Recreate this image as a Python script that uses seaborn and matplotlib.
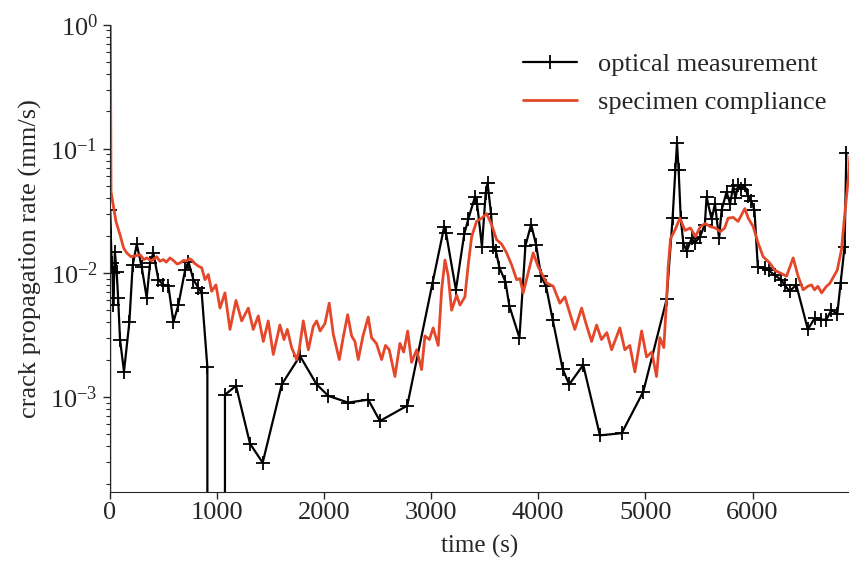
import pandas as pd
import seaborn as sns
import matplotlib.pyplot as plt

# optical measurement (black, + markers); zeros fall off the log axis
optical_t = [0, 5, 20, 30, 35, 50, 67, 80, 98, 135, 185, 216, 254, 300, 347, 378,
             409, 456, 503, 549, 596, 642, 705, 736, 783, 829, 860, 913, 925, 1070,
             1077, 1180, 1311, 1429, 1607, 1777, 1933, 2041, 2227, 2414, 2523, 2778,
             3014, 3123, 3140, 3232, 3310, 3347, 3410, 3430, 3475, 3510, 3527, 3560,
             3580, 3606, 3638, 3694, 3731, 3825, 3881, 3934, 3980, 4027, 4073, 4135,
             4228, 4289, 4420, 4576, 4779, 4980, 5198, 5254, 5280, 5295, 5310, 5330,
             5354, 5385, 5432, 5460, 5510, 5555, 5571, 5618, 5649, 5688, 5711, 5758,
             5790, 5820, 5840, 5866, 5895, 5925, 5955, 5987, 6018, 6049, 6112, 6150,
             6205, 6268, 6299, 6345, 6408, 6516, 6579, 6641, 6688, 6735, 6791, 6822,
             6859, 6875]
optical_rate = [0, 0.032, 0.012, 0.010, 0.0055, 0.0148, 0.0101, 0.0063, 0.0029, 0.0016,
                0.0040, 0.0115, 0.017, 0.0112, 0.0063, 0.012, 0.0145, 0.0088, 0.0080,
                0.0079, 0.0040, 0.0055, 0.0105, 0.0123, 0.0088, 0.0076, 0.0069, 0.00174,
                0, 0, 0.00104, 0.00123, 0.00042, 0.000295, 0.00126, 0.00214, 0.00126,
                0.00102, 0.00090, 0.00095, 0.00064, 0.00085, 0.0083, 0.0236, 0.021,
                0.0073, 0.0206, 0.027, 0.041, 0.036, 0.0163, 0.044, 0.053, 0.030, 0.0163,
                0.0149, 0.011, 0.0085, 0.0054, 0.0030, 0.0166, 0.0245, 0.0169, 0.0094,
                0.0078, 0.0042, 0.00168, 0.00126, 0.00181, 0.00049, 0.00051, 0.00110,
                0.0061, 0.0276, 0.068, 0.111, 0.068, 0.0276, 0.0174, 0.0149, 0.019,
                0.0174, 0.0196, 0.0245, 0.041, 0.027, 0.036, 0.019, 0.032, 0.045, 0.036,
                0.050, 0.040, 0.051, 0.047, 0.051, 0.042, 0.038, 0.032, 0.0112, 0.0109,
                0.0105, 0.0096, 0.0088, 0.0080, 0.0071, 0.0080, 0.0035, 0.0043, 0.0042,
                0.0042, 0.0050, 0.0047, 0.0083, 0.0163, 0.093]

# specimen compliance (red)
compliance_t = [8, 14, 35, 60, 100, 130, 160, 200, 250, 285, 320, 347, 390, 440, 470,
                502, 530, 564, 600, 630, 658, 690, 720, 745, 767, 790, 813, 840, 860,
                891, 922, 953, 993, 1031, 1077, 1124, 1180, 1233, 1295, 1341, 1388,
                1435, 1481, 1528, 1590, 1628, 1659, 1699, 1746, 1770, 1808, 1855, 1901,
                1933, 1965, 2010, 2050, 2088, 2144, 2180, 2222, 2259, 2290, 2321, 2365,
                2414, 2445, 2490, 2539, 2575, 2610, 2663, 2710, 2745, 2782, 2819, 2866,
                2912, 2943, 2985, 3020, 3067, 3099, 3130, 3160, 3192, 3239, 3270, 3316,
                3347, 3379, 3425, 3472, 3519, 3565, 3612, 3660, 3705, 3752, 3799, 3830,
                3860, 3907, 3953, 4000, 4030, 4078, 4140, 4202, 4249, 4296, 4342, 4405,
                4450, 4498, 4545, 4590, 4640, 4685, 4762, 4808, 4855, 4902, 4965, 5011,
                5060, 5104, 5135, 5172, 5198, 5213, 5235, 5275, 5322, 5370, 5420, 5467,
                5513, 5560, 5605, 5653, 5700, 5740, 5772, 5819, 5865, 5928, 5960, 6006,
                6052, 6099, 6161, 6208, 6255, 6317, 6379, 6425, 6472, 6516, 6550, 6579,
                6610, 6644, 6690, 6720, 6759, 6790, 6830, 6861, 6892, 6910]
compliance_rate = [1.0, 0.045, 0.035, 0.026, 0.020, 0.016, 0.0145, 0.0135, 0.0138, 0.014,
                   0.0128, 0.0132, 0.0125, 0.0135, 0.0124, 0.0128, 0.0122, 0.0132, 0.0125,
                   0.0118, 0.012, 0.0126, 0.0125, 0.0130, 0.0127, 0.0120, 0.0116, 0.0112,
                   0.011, 0.0088, 0.0097, 0.0071, 0.0080, 0.0052, 0.0069, 0.0035, 0.0060,
                   0.0041, 0.0052, 0.0035, 0.0045, 0.0028, 0.0041, 0.0022, 0.0038, 0.0029,
                   0.0035, 0.0025, 0.0020, 0.0024, 0.0041, 0.0024, 0.0037, 0.0041, 0.0034,
                   0.0039, 0.0057, 0.0032, 0.0020, 0.0030, 0.0046, 0.0031, 0.0028, 0.0020,
                   0.0031, 0.0044, 0.0030, 0.0027, 0.0020, 0.0026, 0.0024, 0.00146, 0.0027,
                   0.0023, 0.0034, 0.0019, 0.0024, 0.00166, 0.0031, 0.0029, 0.0036, 0.0026,
                   0.0073, 0.0127, 0.0095, 0.0050, 0.0066, 0.0055, 0.0064, 0.0116, 0.0196,
                   0.026, 0.0276, 0.030, 0.0245, 0.0185, 0.017, 0.0145, 0.0116, 0.0088,
                   0.0090, 0.0069, 0.010, 0.0145, 0.0112, 0.0100, 0.0083, 0.0078, 0.0057,
                   0.0064, 0.0047, 0.0035, 0.0052, 0.0038, 0.0028, 0.0038, 0.0029, 0.0033,
                   0.0024, 0.0036, 0.0024, 0.0026, 0.00159, 0.0034, 0.0021, 0.0023,
                   0.00146, 0.0030, 0.0025, 0.0061, 0.0112, 0.0190, 0.022, 0.0276, 0.022,
                   0.023, 0.0196, 0.0236, 0.025, 0.0236, 0.023, 0.0215, 0.023, 0.0276,
                   0.028, 0.026, 0.033, 0.0276, 0.0236, 0.0174, 0.0135, 0.012, 0.0105,
                   0.0100, 0.0094, 0.0132, 0.0094, 0.0073, 0.0078, 0.0080, 0.0073, 0.0078,
                   0.0069, 0.0078, 0.0082, 0.0094, 0.0105, 0.0154, 0.030, 0.056, 0.09]

optical = pd.DataFrame({'time': optical_t, 'rate': optical_rate})
compliance = pd.DataFrame({'time': compliance_t, 'rate': compliance_rate})

sns.set_style('ticks')
plt.rcParams['font.family'] = ['Liberation Serif', 'DejaVu Serif']
plt.rcParams['mathtext.fontset'] = 'stix'
plt.rcParams['font.size'] = 19

fig = plt.figure(figsize=(8.49, 5.63), dpi=100)
ax = fig.add_axes([0.129, 0.126, 0.871, 0.830])

sns.lineplot(data=optical, x='time', y='rate', estimator=None, sort=False,
             color='black', lw=1.6, marker='+', markersize=10.5, markeredgewidth=1.3,
             markeredgecolor='black', label='optical measurement', ax=ax)
sns.lineplot(data=compliance, x='time', y='rate', estimator=None, sort=False,
             color='#e4472a', lw=2.0, label='specimen compliance', ax=ax)

ax.set_yscale('log')
ax.set_xlim(0, 6900)
ax.set_ylim(1.71e-4, 1.0)
ax.set_xticks([0, 1000, 2000, 3000, 4000, 5000, 6000])
ax.set_xlabel('time (s)', fontsize=18, labelpad=8)
ax.set_ylabel('crack propagation rate (mm/s)', fontsize=19, labelpad=6)
ax.tick_params(axis='both', which='major', labelsize=19, length=5, width=1, direction='out')
ax.tick_params(axis='x', which='major', pad=2)
ax.tick_params(axis='y', which='minor', length=3, width=0.8, direction='out')
sns.despine(ax=ax)

ax.legend(loc='upper left', bbox_to_anchor=(0.559, 0.94), frameon=False,
          fontsize=19, handlelength=2.05, handletextpad=0.8, labelspacing=0.55,
          borderaxespad=0, borderpad=0)

fig.savefig('out.png', dpi=100)
